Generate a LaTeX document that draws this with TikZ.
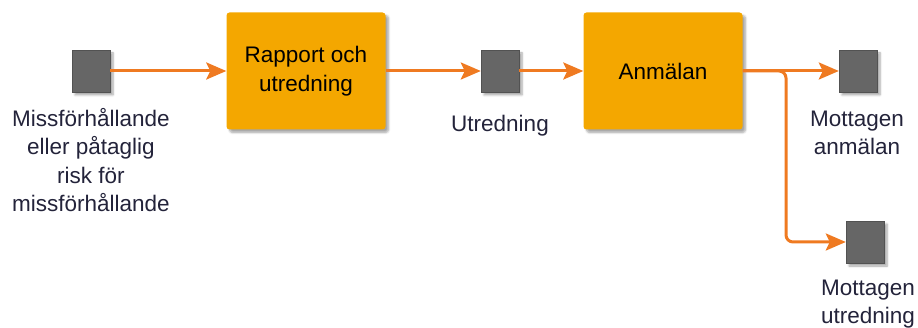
\documentclass[tikz,border=0pt]{standalone}
\usepackage{fontspec}
\setmainfont{Liberation Sans}
\usetikzlibrary{arrows.meta,shadows.blur}
\definecolor{boxfill}{HTML}{F4A700}
\definecolor{flow}{HTML}{EF7A21}
\definecolor{port}{HTML}{666666}
\definecolor{labeltext}{HTML}{23233A}
\tikzset{
  x=1pt, y=-1pt,
  every node/.style={font=\fontsize{22.5}{28.5}\selectfont},
  soft shadow/.style={blur shadow={shadow xshift=3pt, shadow yshift=-3pt,
      shadow blur steps=6, shadow opacity=35}},
  process/.style={fill=boxfill, rounded corners=3pt, minimum width=159pt,
      minimum height=117pt, inner sep=0pt, align=center, text=black, soft shadow},
  portbox/.style={fill=port, draw=port!80!black, line width=0.4pt,
      minimum width=38pt, minimum height=42pt, inner sep=0pt, soft shadow},
  caption/.style={align=center, text=labeltext, inner sep=0pt},
  flowline/.style={draw=flow, line width=3pt,
      -{Stealth[length=20pt, width=17pt, inset=4pt]}},
}
\begin{document}
\begin{tikzpicture}
  \useasboundingbox (0,0) rectangle (918,328);

  % activity boxes
  \node[process] (rapport) at (306,71) {Rapport och\\utredning};
  \node[process] (anmalan) at (663,71) {Anmälan};

  % ports
  \node[portbox] (start) at (91,71) {};
  \node[portbox] (utr) at (500,71) {};
  \node[portbox] (motanm) at (858,71) {};
  \node[portbox] (motutr) at (865,242) {};

  % port captions
  \node[caption] (startlbl) at (91,160) {Missförhållande\\eller påtaglig\\risk för\\missförhållande};
  \node[caption] (utrlbl) at (500,126) {Utredning};
  \node[caption] (motanmlbl) at (857,133) {Mottagen\\anmälan};
  \node[caption] (motutrlbl) at (868,304) {Mottagen\\utredning};

  % flows
  \draw[flowline] (start.east) -- (rapport.west);
  \draw[flowline] (rapport.east) -- (utr.west);
  \draw[flowline] (utr.east) -- (anmalan.west);
  \draw[flowline] (anmalan.east) -- (motanm.west);
  \coordinate (split) at (786,71);
  \draw[flowline, rounded corners=7pt] (anmalan.east) -- (split) |- (motutr.west);
\end{tikzpicture}
\end{document}
